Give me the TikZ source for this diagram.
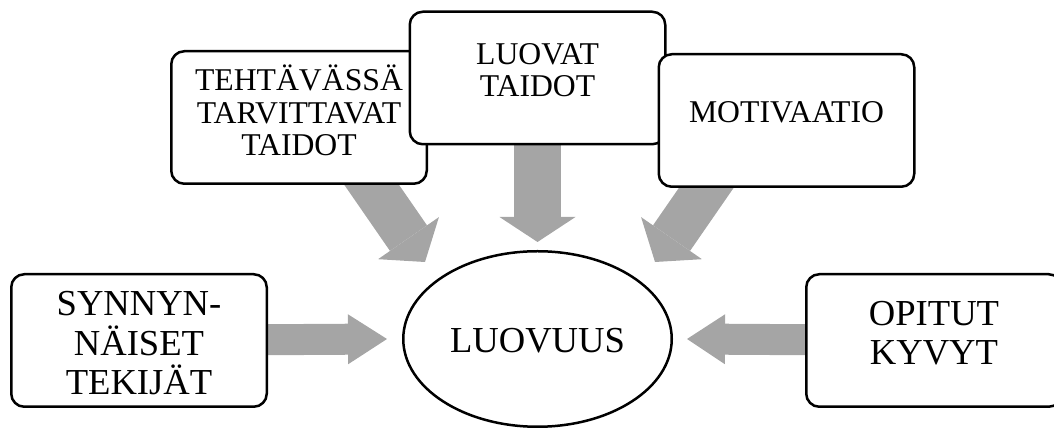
\documentclass[tikz,border=0pt]{standalone}
\usepackage{fontspec}
\setmainfont{Liberation Serif}
\usepackage{tikz}
\usetikzlibrary{arrows.meta,backgrounds,shapes.geometric}
\definecolor{arrowgray}{HTML}{A5A5A5}

\tikzset{
    box/.style={draw, line width=2.5pt, rounded corners=13pt, fill=white, align=center,
        minimum width=255.5pt, minimum height=132.5pt, inner sep=0pt},
    smalltext/.style={font=\fontsize{31.7}{32.5}\selectfont},
    bigtext/.style={font=\fontsize{36.6}{39.5}\selectfont},
    fatarrow/.style n args={3}{draw=arrowgray, line width=#1,
        -{Triangle[length=#2, width=#3, line width=0pt]}}
}

\begin{document}
\begin{tikzpicture}[x=1pt,y=1pt]
        \useasboundingbox (0,0) rectangle (1054,430);

        % Top row
        \node[box, smalltext, text height=90pt, text depth=13pt] (teht) at (299,312.5) {TEHTÄVÄSSÄ\\TARVITTAVAT\\TAIDOT};
        \node[box, smalltext, text height=50pt, text depth=12pt] (luovat) at (537.5,352) {LUOVAT\\TAIDOT};
        \node[box, smalltext, text height=25pt, text depth=20pt] (motiv) at (786.5,309.5) {MOTIVAATIO};

        % Middle row
        \node[draw, ellipse, line width=2.5pt, minimum width=268.5pt, minimum height=175.5pt, inner sep=0pt,
            bigtext, text height=28pt, text depth=0pt] (luovuus) at (537.5,91) {LUOVUUS};
        \node[box, bigtext, text height=115pt, text depth=6pt] (synn) at (139,89.5) {SYNNYN-\\NÄISET\\TEKIJÄT};
        \node[box, bigtext, text height=60pt, text depth=11pt] (opit) at (934,89.5) {OPITUT\\KYVYT};

        % Arrow ends
        \coordinate (tipL) at ([xshift=-15pt]luovuus.west);
        \coordinate (tipR) at ([xshift=14pt]luovuus.east);
        \coordinate (tipT) at ([yshift=8pt]luovuus.north);
        \coordinate (tipTL) at ([shift={(-112.5,77)}]luovuus.center);
        \coordinate (tipTR) at ([shift={(117.5,77)}]luovuus.center);
        \coordinate (fromTL) at ([shift={(52,30)}]teht.south);
        \coordinate (fromTR) at ([shift={(-57.5,33)}]motiv.south);

        % Arrows
        \begin{scope}[on background layer]
            \draw[fatarrow={31pt}{39pt}{50pt}] (synn) -- (tipL);
            \draw[fatarrow={31pt}{38pt}{50pt}] (opit) -- (tipR);
            \draw[fatarrow={47pt}{25pt}{76pt}] (luovat) -- (tipT);
            \draw[fatarrow={45pt}{29pt}{74pt}] (fromTL) -- (tipTL);
            \draw[fatarrow={45pt}{29pt}{74pt}] (fromTR) -- (tipTR);
        \end{scope}

\end{tikzpicture}
\end{document}
